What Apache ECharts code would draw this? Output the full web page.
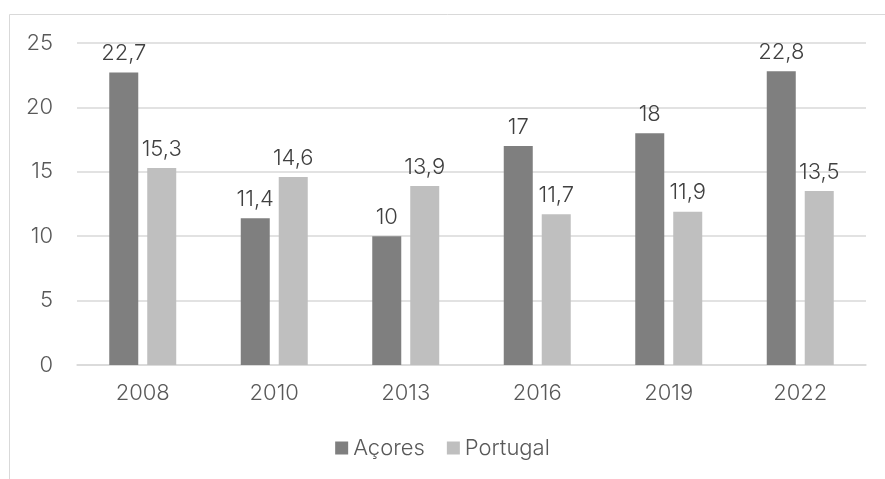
<!DOCTYPE html>
<html>
<head>
<meta charset="utf-8">
<script src="https://cdn.jsdelivr.net/npm/echarts@6/dist/echarts.min.js"></script>
<style>
  html, body { margin: 0; padding: 0; background: #fff; }
  #chart { width: 885px; height: 479px; }
</style>
</head>
<body>
<div id="chart"></div>
<script>
var years = ["2008", "2010", "2013", "2016", "2019", "2022"];
var acores = [22.7, 11.4, 10, 17, 18, 22.8];
var portugal = [15.3, 14.6, 13.9, 11.7, 11.9, 13.5];
var yTicks = [0, 5, 10, 15, 20, 25];

var font = "Inter, 'Noto Sans', sans-serif";

function commaLabel(p) {
  return String(p.value).replace(".", ",");
}

var chart = echarts.init(document.getElementById("chart"));
chart.setOption({
  animation: false,
  textStyle: { fontFamily: font },
  graphic: [
    {
      type: "rect",
      shape: { x: 9.5, y: 14.5, width: 900, height: 500 },
      style: { fill: "none", stroke: "#d9d9d9", lineWidth: 1 },
      silent: true
    }
  ],
  grid: { left: 77, right: 19, top: 43, bottom: 114 },
  legend: {
    bottom: 15,
    left: "center",
    itemWidth: 13,
    itemHeight: 13,
    itemGap: 22,
    icon: "rect",
    textStyle: { fontSize: 22, fontWeight: 300, color: "#595959", fontFamily: font },
    data: ["Açores", "Portugal"]
  },
  xAxis: {
    type: "category",
    data: years,
    axisTick: { show: false },
    axisLine: { lineStyle: { color: "#d9d9d9", width: 1.5 } },
    axisLabel: { fontSize: 22, fontWeight: 300, color: "#595959", margin: 17 }
  },
  yAxis: {
    type: "value",
    min: yTicks[0],
    max: yTicks[yTicks.length - 1],
    interval: 5,
    axisLine: { show: false },
    axisTick: { show: false },
    splitLine: { lineStyle: { color: "#d9d9d9", width: 1.5 } },
    axisLabel: { fontSize: 22, fontWeight: 300, color: "#595959", margin: 24 }
  },
  series: [
    {
      name: "Açores",
      type: "bar",
      data: acores,
      barWidth: 29,
      barGap: "31%",
      itemStyle: { color: "#7f7f7f" },
      label: {
        show: true,
        position: "top",
        distance: 8,
        fontSize: 22,
        fontWeight: 300,
        color: "#404040",
        formatter: commaLabel
      }
    },
    {
      name: "Portugal",
      type: "bar",
      data: portugal,
      barWidth: 29,
      itemStyle: { color: "#bfbfbf" },
      label: {
        show: true,
        position: "top",
        distance: 8,
        fontSize: 22,
        fontWeight: 300,
        color: "#404040",
        formatter: commaLabel
      }
    }
  ]
});
</script>
</body>
</html>
